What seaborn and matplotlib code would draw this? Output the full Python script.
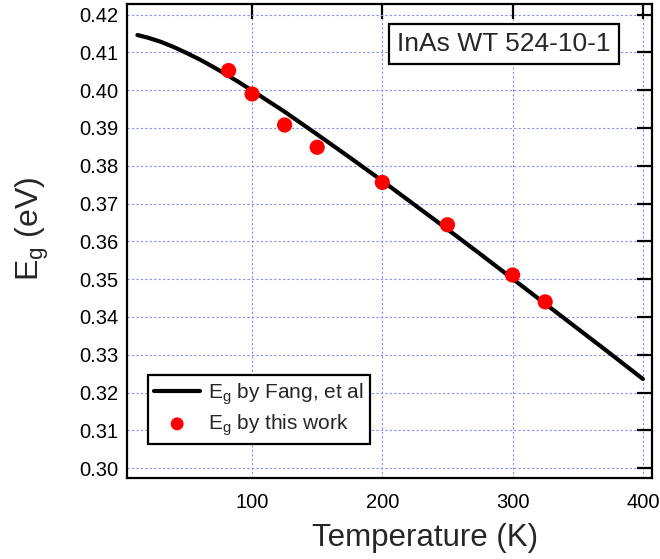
import matplotlib
matplotlib.use("Agg")
import matplotlib.pyplot as plt
import seaborn as sns
import pandas as pd

# Fang et al. curve
fang_T = [12, 20, 30, 40, 50, 60, 70, 80, 90, 100, 125, 150, 175, 200,
          225, 250, 275, 300, 325, 350, 375, 400]
fang_Eg = [0.4146, 0.4139, 0.4128, 0.4114, 0.4098, 0.4081, 0.4062, 0.4042,
           0.4021, 0.3999, 0.3943, 0.3883, 0.3822, 0.3760, 0.3696, 0.3632,
           0.3567, 0.3501, 0.3435, 0.3369, 0.3303, 0.3236]

# measured points
work_T = [82, 100, 125, 150, 200, 250, 300, 325]
work_Eg = [0.4052, 0.3990, 0.3908, 0.3849, 0.3756, 0.3644, 0.3511, 0.3440]

x_ticks = [100, 200, 300, 400]
y_ticks = [0.30, 0.31, 0.32, 0.33, 0.34, 0.35, 0.36, 0.37, 0.38, 0.39,
           0.40, 0.41, 0.42]

sns.set_style("white")
plt.rcParams['font.family'] = ['Liberation Sans', 'DejaVu Sans']
plt.rcParams['mathtext.default'] = 'regular'

fang = pd.DataFrame({'T': fang_T, 'Eg': fang_Eg})
work = pd.DataFrame({'T': work_T, 'Eg': work_Eg})

fig = plt.figure(figsize=(6.6, 5.59), dpi=100)
ax = fig.add_axes([0.1924, 0.1449, 0.7955, 0.8479])

sns.lineplot(data=fang, x='T', y='Eg', ax=ax, color='black', linewidth=3,
             label='E$_g$ by Fang, et al', zorder=3)
sns.scatterplot(data=work, x='T', y='Eg', ax=ax, color='red', s=120,
                edgecolor='none', label='E$_g$ by this work', zorder=4)

ax.set_xlim(4, 407)
ax.set_ylim(0.2974, 0.4228)
ax.set_xticks(x_ticks)
ax.set_yticks(y_ticks)
ax.set_yticklabels([f"{v:.2f}" for v in y_ticks])

ax.grid(True, color='#8a8aff', linestyle=(0, (2, 2)), linewidth=0.8)
ax.set_axisbelow(True)

for s in ax.spines.values():
    s.set_color('black')
    s.set_linewidth(1.6)

ax.tick_params(direction='in', length=11, width=1.6, top=True, right=True,
               labelsize=14.5, colors='black', pad=6)
ax.tick_params(axis='x', pad=11)

ax.set_xlabel('Temperature (K)', fontsize=22.5)
ax.set_ylabel('E$_g$ (eV)', fontsize=23)
ax.xaxis.set_label_coords(0.568, -0.095)
ax.yaxis.set_label_coords(-0.145, 0.525)

leg = ax.legend(loc='lower left', bbox_to_anchor=(0.04, 0.072),
                borderaxespad=0, fontsize=15, fancybox=False,
                framealpha=1, edgecolor='black', handlelength=2.2,
                handletextpad=0.4, borderpad=0.3, labelspacing=0.25,
                markerscale=0.85)
leg.get_frame().set_linewidth(1.6)

ax.text(0.718, 0.915, 'InAs WT 524-10-1', transform=ax.transAxes,
        fontsize=19, ha='center', va='center',
        bbox=dict(boxstyle='square,pad=0.3', facecolor='white',
                  edgecolor='black', linewidth=1.6))

fig.savefig('out.png', dpi=100)
